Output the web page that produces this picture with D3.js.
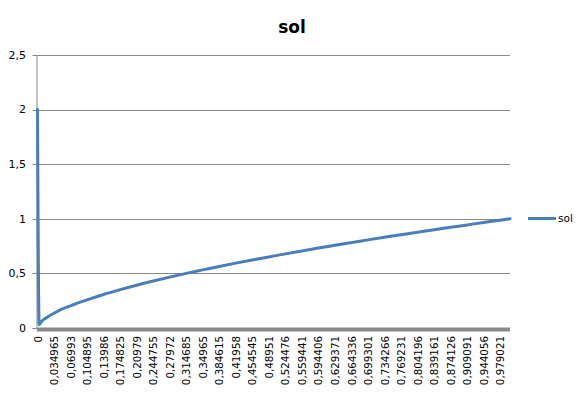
<!DOCTYPE html>
<html>
<head>
<meta charset="utf-8">
<script src="https://cdn.jsdelivr.net/npm/d3@7"></script>
<style>
  html, body { margin: 0; padding: 0; background: #fff; }
  svg { display: block; }
  text { font-family: "DejaVu Sans", Verdana, sans-serif; fill: #000; }
</style>
</head>
<body>
<svg id="chart" width="586" height="394"></svg>
<script>
(function () {
// ---- data ----
const title = "sol";
const seriesName = "sol";
const categoryCount = 287; // points along the category axis
// sampled point indices along the category axis and their read values
const pointIndex = [0, 1, 2, 3, 5, 7, 10, 15, 20, 25, 30, 40, 50, 60, 70, 80, 90, 100, 110, 120,
  130, 140, 150, 160, 170, 180, 190, 200, 210, 220, 230, 240, 250, 260, 270, 280, 286];
const solValues = [2, 0.03, 0.05, 0.068, 0.09, 0.11, 0.135, 0.175, 0.203, 0.232, 0.258, 0.307, 0.351,
  0.392, 0.43, 0.466, 0.5, 0.532, 0.564, 0.594, 0.623, 0.651, 0.679, 0.706, 0.732, 0.757,
  0.782, 0.807, 0.831, 0.854, 0.877, 0.9, 0.922, 0.944, 0.966, 0.987, 1.0];
const xTickLabels = ["0", "0,034965", "0,06993", "0,104895", "0,13986", "0,174825", "0,20979",
  "0,244755", "0,27972", "0,314685", "0,34965", "0,384615", "0,41958", "0,454545", "0,48951",
  "0,524476", "0,559441", "0,594406", "0,629371", "0,664336", "0,699301", "0,734266",
  "0,769231", "0,804196", "0,839161", "0,874126", "0,909091", "0,944056", "0,979021"];
const xTickIndex = xTickLabels.map((d, i) => i * 10);
const yTicks = [0, 0.5, 1, 1.5, 2, 2.5];
const yTickLabels = ["0", "0,5", "1", "1,5", "2", "2,5"];

// ---- layout ----
const svg = d3.select("#chart");
const pLeft = 37.5, pRight = 510, pTop = 55, pBottom = 328;
const lineColor = "#4a7ebb";
const gridColor = "#868686";

const x = d3.scaleLinear().domain([0, categoryCount - 1]).range([pLeft, pRight]);
const y = d3.scaleLinear().domain([0, 2.5]).range([pBottom, pTop]);

// gridlines
svg.append("g").selectAll("line").data(yTicks).join("line")
  .attr("x1", pLeft - 5).attr("x2", pRight)
  .attr("y1", d => Math.round(y(d)) + 0.5).attr("y2", d => Math.round(y(d)) + 0.5)
  .attr("stroke", gridColor).attr("stroke-width", 1);

// y axis line
svg.append("line")
  .attr("x1", 37).attr("x2", 37).attr("y1", pTop).attr("y2", pBottom + 1)
  .attr("stroke", gridColor).attr("stroke-width", 1);

// y tick labels
svg.append("g").selectAll("text").data(yTicks).join("text")
  .attr("x", 26).attr("y", d => y(d)).attr("dy", "0.35em")
  .attr("text-anchor", "end").attr("font-size", 11)
  .text((d, i) => yTickLabels[i]);

// x axis (thick band)
svg.append("line")
  .attr("x1", 37).attr("x2", pRight).attr("y1", 329.5).attr("y2", 329.5)
  .attr("stroke", "#8a8a8a").attr("stroke-width", 4);

// x tick labels, rotated
svg.append("g").selectAll("text").data(xTickIndex).join("text")
  .attr("transform", d => `translate(${x(d) + 0.5},336) rotate(-90)`)
  .attr("dy", "0.35em")
  .attr("text-anchor", "end").attr("font-size", 10.3)
  .text((d, i) => xTickLabels[i]);

// series line
const pts = pointIndex.map((d, i) => [d, solValues[i]]);
const line = d3.line().x(d => x(d[0])).y(d => y(d[1])).curve(d3.curveMonotoneX);
svg.append("path").datum(pts)
  .attr("d", line).attr("fill", "none")
  .attr("stroke", lineColor).attr("stroke-width", 3)
  .attr("stroke-linejoin", "round").attr("stroke-linecap", "round");

// title
svg.append("text").attr("x", 292).attr("y", 33)
  .attr("text-anchor", "middle").attr("font-size", 17).attr("font-weight", "bold")
  .text(title);

// legend
svg.append("line").attr("x1", 528).attr("x2", 556).attr("y1", 218.5).attr("y2", 218.5)
  .attr("stroke", lineColor).attr("stroke-width", 3);
svg.append("text").attr("x", 558).attr("y", 218.5).attr("dy", "0.35em")
  .attr("font-size", 10.5).text(seriesName);
})();
</script>
</body>
</html>
